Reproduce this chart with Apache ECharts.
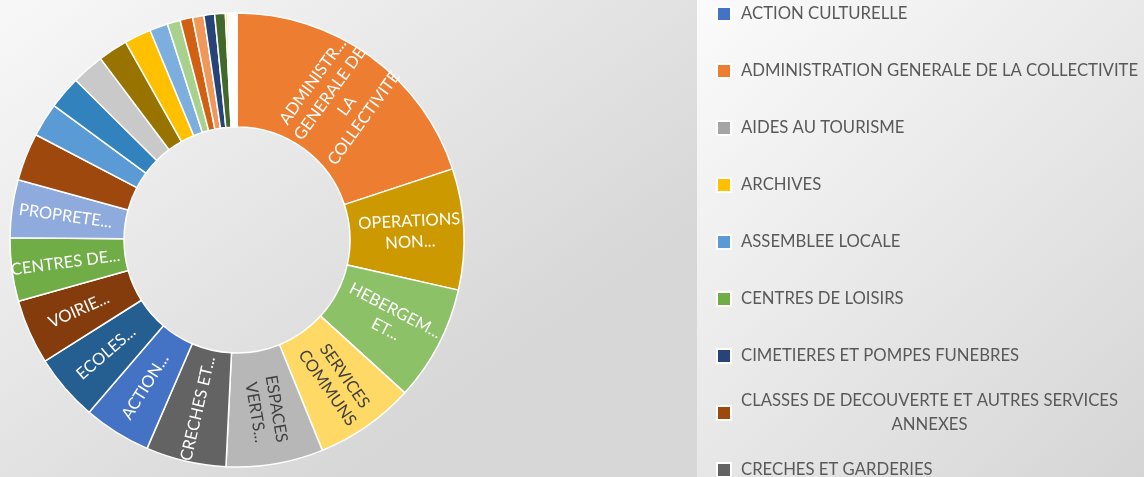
<!DOCTYPE html>
<html>
<head>
<meta charset="utf-8">
<script src="https://cdn.jsdelivr.net/npm/echarts@6.0.0/dist/echarts.min.js"></script>
<style>
  html, body { margin: 0; padding: 0; }
  #main { width: 1144px; height: 477px; }
</style>
</head>
<body>
<div id="main"></div>
<script>
// categories in legend (alphabetical) order
var categories = [
  "ACTION CULTURELLE",
  "ADMINISTRATION GENERALE DE LA COLLECTIVITE",
  "AIDES AU TOURISME",
  "ARCHIVES",
  "ASSEMBLEE LOCALE",
  "CENTRES DE LOISIRS",
  "CIMETIERES ET POMPES FUNEBRES",
  "CLASSES DE DECOUVERTE ET AUTRES SERVICES ANNEXES",
  "CRECHES ET GARDERIES",
  "ECLAIRAGE PUBLIC",
  "ECOLES PRIMAIRES ET MATERNELLES",
  "EMPLOI ET INSERTION PROFESSIONNELLE",
  "ENSEIGNEMENT MUSICAL",
  "ENVIRONNEMENT",
  "ESPACES VERTS URBAINS",
  "FETES ET CEREMONIES",
  "FOIRES ET MARCHES",
  "HEBERGEMENT ET RESTAURATION SCOLAIRES",
  "INCENDIE ET SECOURS",
  "INTERVENTIONS SOCIALES",
  "JEUNESSE",
  "OPERATIONS NON VENTILABLES",
  "PERSONNES AGEES",
  "POLICE MUNICIPALE",
  "PROPRETE URBAINE",
  "SALLES DE SPECTACLES",
  "SALLES DE SPORTS ET GYMNASES",
  "SERVICES COMMUNS",
  "SERVICES DE L'URBANISME",
  "STADES",
  "TRANSPORTS SCOLAIRES",
  "VOIRIE COMMUNALE ET ROUTES"
];

// part de chaque fonction (%)
var values = [
  4.8, 19.9, 0.12, 1.9, 2.4, 4.5, 0.76, 3.4, 5.7, 2.1,
  4.75, 0.75, 0.1, 0.8, 6.9, 0.15, 1.3, 8.2, 0.1, 0.9,
  0.09, 8.6, 2.35, 0.08, 4.1, 0.07, 2.3, 7.1, 0.06, 0.92,
  0.05, 4.6
];

// texte des etiquettes dans l'anneau ("" = pas d'etiquette)
var sliceLabels = [
  "ACTION...", "ADMINISTR...\nGENERALE DE\nLA\nCOLLECTIVITE", "", "", "", "CENTRES DE...", "", "", "CRECHES ET...", "",
  "ECOLES...", "", "", "", "ESPACES\nVERTS...", "", "", "HEBERGEM...\nET...", "", "",
  "", "OPERATIONS\nNON...", "", "", "PROPRETE...", "", "", "SERVICES\nCOMMUNS", "", "",
  "", "VOIRIE..."
];

// office palette
var palette = [
  "#4472C4", "#ED7D31", "#A5A5A5", "#FFC000", "#5B9BD5", "#70AD47",
  "#264478", "#9E480E", "#636363", "#997300", "#255E91", "#43682B",
  "#698ED0", "#F1975A", "#B7B7B7", "#FFCD33", "#7CAFDD", "#8CC168",
  "#335AA1", "#D26012", "#848484", "#CC9A00", "#3282BD", "#5A8A39",
  "#8FAADC", "#F4B183", "#C9C9C9", "#FFD966", "#9DC3E6", "#A9D18E",
  "#203864", "#843C0C"
];
var darkText = ["SERVICES COMMUNS", "ESPACES VERTS URBAINS"];

var twoLineName = "CLASSES DE DECOUVERTE ET AUTRES SERVICES ANNEXES";

var pieData = categories.map(function (name, i) {
  return {
    name: name,
    value: values[i],
    itemStyle: { color: palette[i] },
    label: {
      show: sliceLabels[i] !== "",
      formatter: sliceLabels[i],
      color: darkText.indexOf(name) >= 0 ? "#404040" : "#ffffff"
    }
  };
}).sort(function (a, b) {
  return b.value - a.value;
});

var myChart = echarts.init(document.getElementById("main"));

var option = {
  backgroundColor: {
    type: "linear", x: 0, y: 0, x2: 0.3, y2: 1,
    colorStops: [
      { offset: 0, color: "#f8f8f8" },
      { offset: 1, color: "#d7d7d7" }
    ]
  },
  graphic: [
    {
      type: "rect",
      z: -10,
      shape: { x: 697, y: 0, width: 447, height: 477 },
      style: {
        fill: {
          type: "linear", x: 0, y: 0, x2: 1, y2: 1,
          colorStops: [
            { offset: 0, color: "#fbfbfb" },
            { offset: 1, color: "#d5d5d5" }
          ]
        }
      }
    }
  ],
  legend: {
    orient: "vertical",
    left: 716,
    top: -10,
    height: 2000,
    padding: 0,
    itemGap: 9,
    itemWidth: 14,
    itemHeight: 14,
    icon: "rect",
    data: categories,
    formatter: function (name) {
      if (name === twoLineName) {
        return "{c|CLASSES DE DECOUVERTE ET AUTRES SERVICES}\n{c|ANNEXES}";
      }
      return "{s|" + name + "}";
    },
    textStyle: {
      color: "#595959",
      fontFamily: "Lato",
      fontSize: 16.7,
      rich: {
        s: {
          color: "#595959", fontFamily: "Lato", fontSize: 16.7,
          height: 48, lineHeight: 48, padding: [0, 0, 0, 5],
          backgroundColor: "rgba(0,0,0,0)"
        },
        c: {
          color: "#595959", fontFamily: "Lato", fontSize: 16.7,
          height: 24, lineHeight: 24, align: "center", padding: [0, 0, 0, 5],
          backgroundColor: "rgba(0,0,0,0)"
        }
      }
    }
  },
  series: [
    {
      type: "pie",
      center: [237, 240],
      radius: [113, 227],
      startAngle: 90,
      clockwise: true,
      avoidLabelOverlap: false,
      animation: false,
      itemStyle: {
        borderColor: "#ffffff",
        borderWidth: 1.5
      },
      label: {
        position: "inside",
        rotate: "radial",
        fontFamily: "Lato",
        fontSize: 16.5,
        lineHeight: 21,
        align: "center"
      },
      labelLine: { show: false },
      data: pieData
    }
  ]
};

myChart.setOption(option);
</script>
</body>
</html>
